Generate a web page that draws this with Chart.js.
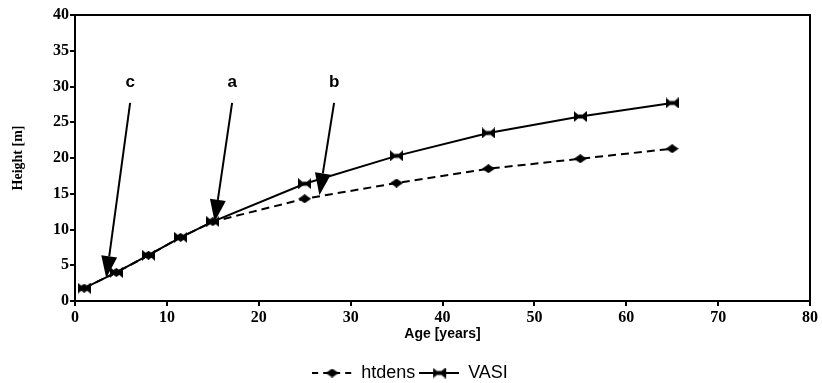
<!DOCTYPE html>
<html><head><meta charset="utf-8">
<script src="https://cdn.jsdelivr.net/npm/chart.js@4/dist/chart.umd.min.js"></script>
<style>html,body{margin:0;padding:0;background:#fff;}canvas{display:block;}</style>
</head><body>
<canvas id="c" width="822" height="383"></canvas>
<script>
const ages = [1, 4.5, 8, 11.5, 15, 25, 35, 45, 55, 65];
const htdens = [1.8, 4.0, 6.4, 8.9, 11.1, 14.3, 16.5, 18.5, 19.9, 21.3];
const vasi = [1.8, 4.0, 6.4, 8.9, 11.1, 16.4, 20.3, 23.5, 25.8, 27.7];
const xTicks = [0, 10, 20, 30, 40, 50, 60, 70, 80];
const yTicks = [0, 5, 10, 15, 20, 25, 30, 35, 40];
const arrowLabels = ['c', 'a', 'b'];
const arrowFromX = [6.0, 17.1, 28.2];
const arrowFromY = [27.7, 27.7, 27.7];
const arrowToX = [3.4, 15.2, 26.6];
const arrowToY = [3.2, 11.1, 14.8];
const labelY = 30.6;

function bowtie(w, h) {
  const c = document.createElement('canvas'); c.width = w; c.height = h;
  const g = c.getContext('2d'); g.fillStyle = '#000';
  g.beginPath(); g.moveTo(0,0); g.lineTo(w/2,h/2); g.lineTo(0,h); g.closePath(); g.fill();
  g.beginPath(); g.moveTo(w,0); g.lineTo(w/2,h/2); g.lineTo(w,h); g.closePath(); g.fill();
  g.fillRect(w/2-2, h/2-2, 4, 4);
  return c;
}
function diamond(w, h) {
  const c = document.createElement('canvas'); c.width = w; c.height = h;
  const g = c.getContext('2d'); g.fillStyle = '#000';
  g.beginPath(); g.moveTo(0,h/2); g.lineTo(w/2,0); g.lineTo(w,h/2); g.lineTo(w/2,h); g.closePath(); g.fill();
  return c;
}
function legendIcon(dashed, marker) {
  const c = document.createElement('canvas'); c.width = 40; c.height = 12;
  const g = c.getContext('2d'); g.strokeStyle = '#000'; g.lineWidth = 2;
  if (dashed) g.setLineDash([6,5]);
  g.beginPath(); g.moveTo(0,6); g.lineTo(40,6); g.stroke();
  g.drawImage(marker, 20 - marker.width/2, 6 - marker.height/2);
  return c;
}
const bt = bowtie(13, 11), dm = diamond(13, 9);

const series = [
  {label:'htdens', ys: htdens, dash:[8,5], pt: dm},
  {label:'VASI', ys: vasi, dash:[], pt: bt}
];

const framePlugin = {
  id: 'frame',
  afterDraw(chart) {
    const {ctx, chartArea:a, scales:{x, y}} = chart;
    ctx.save();
    ctx.strokeStyle = '#000'; ctx.lineWidth = 2;
    ctx.strokeRect(a.left, a.top, a.right - a.left, a.bottom - a.top);
    ctx.fillStyle = '#000'; ctx.lineWidth = 2;
    for (let i = 0; i < arrowLabels.length; i++) {
      const x0 = x.getPixelForValue(arrowFromX[i]), y0 = y.getPixelForValue(arrowFromY[i]);
      const x1 = x.getPixelForValue(arrowToX[i]), y1 = y.getPixelForValue(arrowToY[i]);
      const ang = Math.atan2(y1 - y0, x1 - x0);
      const L = 22, W = 8;
      const bx = x1 - L*Math.cos(ang), by = y1 - L*Math.sin(ang);
      ctx.beginPath(); ctx.moveTo(x0, y0); ctx.lineTo(bx, by); ctx.stroke();
      ctx.beginPath(); ctx.moveTo(x1, y1);
      ctx.lineTo(bx + W*Math.sin(ang), by - W*Math.cos(ang));
      ctx.lineTo(bx - W*Math.sin(ang), by + W*Math.cos(ang));
      ctx.closePath(); ctx.fill();
      ctx.font = 'bold 17px "Liberation Sans", Arial, sans-serif';
      ctx.textAlign = 'center'; ctx.textBaseline = 'middle';
      ctx.fillText(arrowLabels[i], x.getPixelForValue(arrowFromX[i]), y.getPixelForValue(labelY));
    }
    ctx.restore();
  }
};

new Chart(document.getElementById('c'), {
  type: 'line',
  data: {
    datasets: series.map(s => ({
      label: s.label,
      data: ages.map((a, i) => ({x: a, y: s.ys[i]})),
      borderColor: '#000', backgroundColor: '#000', borderWidth: 2,
      borderDash: s.dash, pointStyle: s.pt, tension: 0, fill: false
    }))
  },
  options: {
    responsive: false, animation: false,
    layout: {padding: {left: 10, right: 12, top: 15, bottom: -9}},
    plugins: {
      tooltip: {enabled: false},
      legend: {
        position: 'bottom',
        labels: {
          usePointStyle: true, pointStyleWidth: 40, color: '#000', padding: 4,
          font: {family: '"Liberation Sans", Arial, sans-serif', size: 18},
          generateLabels(chart) {
            return series.map((s, i) => ({
              text: s.label, pointStyle: legendIcon(s.dash.length > 0, s.pt),
              fillStyle: '#000', strokeStyle: '#000', lineWidth: 0, datasetIndex: i, fontColor: '#000'
            }));
          }
        }
      }
    },
    scales: {
      x: {
        type: 'linear', min: 0, max: 80,
        afterBuildTicks(s) { s.ticks = xTicks.map(v => ({value: v})); },
        grid: {drawOnChartArea: false, drawTicks: true, tickLength: 5, color: '#000', lineWidth: 2},
        border: {display: true, color: '#000', width: 2},
        ticks: {color: '#000', padding: 2, maxRotation: 0, font: {family: '"Liberation Serif", serif', size: 16, weight: 'bold'}},
        title: {display: true, text: 'Age [years]', color: '#000', padding: {top: 0, bottom: 17},
          font: {family: '"Liberation Sans", Arial, sans-serif', size: 14, weight: 'bold'}},
        afterFit(s) { s.height = 59; }
      },
      y: {
        type: 'linear', min: 0, max: 40,
        afterBuildTicks(s) { s.ticks = yTicks.map(v => ({value: v})); },
        grid: {drawOnChartArea: false, drawTicks: true, tickLength: 5, color: '#000', lineWidth: 2},
        border: {display: true, color: '#000', width: 2},
        ticks: {color: '#000', padding: 1, font: {family: '"Liberation Serif", serif', size: 16, weight: 'bold'}},
        title: {display: true, text: 'Height [m]', color: '#000', padding: {top: 0, bottom: 6},
          font: {family: '"Liberation Serif", serif', size: 14, weight: 'bold'}},
        afterFit(s) { s.width = 65; }
      }
    }
  },
  plugins: [framePlugin]
});
</script>
</body></html>
